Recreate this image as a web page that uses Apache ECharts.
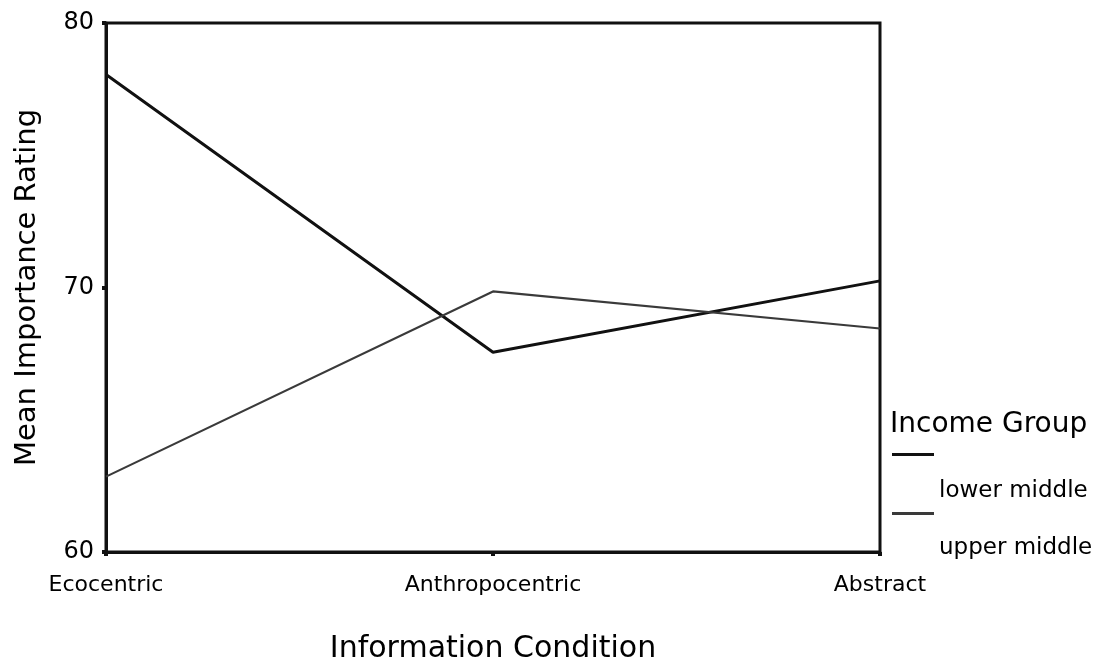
<!DOCTYPE html>
<html>
<head>
<meta charset="utf-8">
<script src="https://cdn.jsdelivr.net/npm/echarts@6/dist/echarts.min.js"></script>
<style>
html,body{margin:0;padding:0;background:#fff;}
#chart{width:1107px;height:669px;}
</style>
</head>
<body>
<div id="chart"></div>
<script>
const categories = ['Ecocentric', 'Anthropocentric', 'Abstract'];
const lowerMiddle = [78.05, 67.55, 70.25];
const upperMiddle = [62.85, 69.85, 68.45];
const seriesNames = ['lower middle', 'upper middle'];
const seriesColors = ['#111111', '#3a3a3a'];
const yTicks = [60, 70, 80];

const FONT = 'DejaVu Sans';
function legendFor(i, top, gap) {
  return {
    data: [{name: seriesNames[i], icon: 'rect', itemStyle: {color: seriesColors[i]}}],
    orient: 'vertical', left: 892, top: top, padding: 0,
    itemWidth: 42, itemHeight: 3, selectedMode: false,
    formatter: function (n) { return '{g|}\n{t|' + n + '}'; },
    textStyle: {
      fontFamily: FONT, fontSize: 23, color: '#000',
      rich: {
        g: {height: gap, fontSize: 1},
        t: {fontFamily: FONT, fontSize: 23, color: '#000', lineHeight: 26}
      }
    }
  };
}
const chart = echarts.init(document.getElementById('chart'));
chart.setOption({
  backgroundColor: '#fff',
  animation: false,
  title: {
    text: 'Income Group',
    left: 890, top: 411, padding: 0,
    textStyle: {fontFamily: FONT, fontSize: 28, fontWeight: 'normal', color: '#000'}
  },
  legend: [legendFor(0, 441, 73), legendFor(1, 500, 69)],
  grid: {
    left: 106, right: 227, top: 23, bottom: 111,
    show: true, borderColor: '#111', borderWidth: 3, backgroundColor: 'transparent'
  },
  xAxis: {
    type: 'category', data: categories, boundaryGap: false,
    name: 'Information Condition', nameLocation: 'middle', nameGap: 82,
    nameTextStyle: {fontFamily: FONT, fontSize: 30, color: '#000'},
    axisLine: {lineStyle: {color: '#111', width: 3}},
    axisTick: {show: true, length: 4, lineStyle: {color: '#111', width: 4}},
    axisLabel: {fontFamily: FONT, fontSize: 22, color: '#000', margin: 22},
    splitLine: {show: false}
  },
  yAxis: {
    type: 'value', min: yTicks[0], max: yTicks[yTicks.length - 1], interval: 10,
    name: 'Mean Importance Rating', nameLocation: 'middle', nameGap: 64,
    nameTextStyle: {fontFamily: FONT, fontSize: 29, color: '#000'},
    axisLine: {show: true, lineStyle: {color: '#111', width: 3}},
    axisTick: {show: true, length: 4, lineStyle: {color: '#111', width: 4}},
    axisLabel: {fontFamily: FONT, fontSize: 24, color: '#000', margin: 12},
    splitLine: {show: false}
  },
  series: [
    {
      name: seriesNames[0], type: 'line', data: lowerMiddle, symbol: 'none',
      lineStyle: {color: seriesColors[0], width: 3}, itemStyle: {color: seriesColors[0]}
    },
    {
      name: seriesNames[1], type: 'line', data: upperMiddle, symbol: 'none',
      lineStyle: {color: seriesColors[1], width: 2.2}, itemStyle: {color: seriesColors[1]}
    }
  ]
});
</script>
</body>
</html>
